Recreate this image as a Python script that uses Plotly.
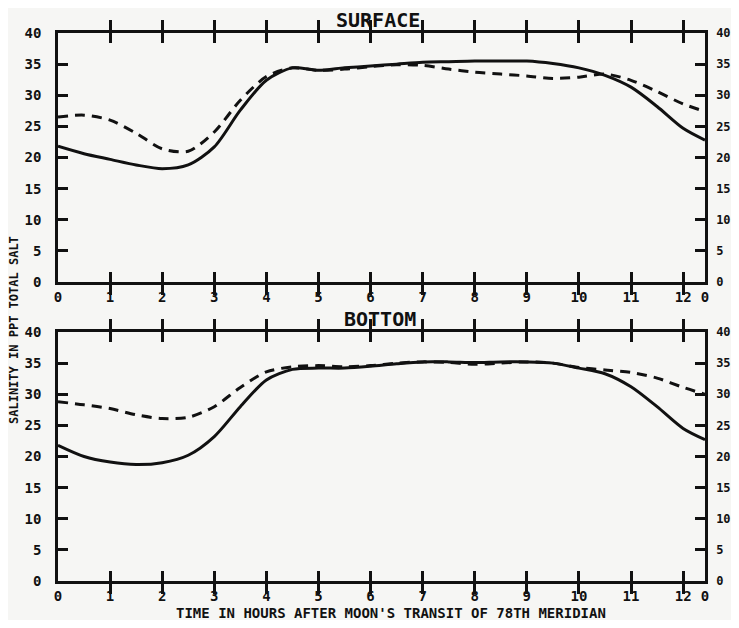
import plotly.graph_objects as go

hours = [0, 0.5, 1, 1.5, 2, 2.5, 3, 3.5, 4, 4.5, 5, 5.5, 6, 6.5, 7, 7.5, 8, 8.5,
         9, 9.5, 10, 10.5, 11, 11.5, 12, 12.42]

surface_solid = [21.8, 20.6, 19.7, 18.8, 18.2, 18.8, 21.7, 27.6, 32.4, 34.4, 34.0, 34.4, 34.7,
                 35.0, 35.3, 35.4, 35.5, 35.5, 35.5, 35.1, 34.4, 33.2, 31.3, 28.2, 24.7, 22.8]
surface_dashed = [26.5, 26.8, 26.0, 23.9, 21.4, 21.0, 24.1, 29.2, 33.0, 34.4, 34.0, 34.2, 34.6,
                  34.9, 34.8, 34.2, 33.7, 33.4, 33.1, 32.7, 32.9, 33.4, 32.4, 30.6, 28.6, 27.4]
bottom_solid = [21.8, 20.0, 19.1, 18.7, 19.0, 20.2, 23.2, 28.0, 32.3, 34.0, 34.2, 34.2, 34.5,
                34.9, 35.2, 35.2, 35.1, 35.2, 35.2, 35.0, 34.2, 33.3, 31.2, 28.0, 24.5, 22.7]
bottom_dashed = [28.8, 28.3, 27.7, 26.7, 26.1, 26.3, 28.0, 31.1, 33.6, 34.4, 34.6, 34.4, 34.6,
                 35.0, 35.2, 35.1, 34.8, 35.0, 35.2, 35.0, 34.3, 33.9, 33.5, 32.6, 31.1, 30.0]

x_tickvals = [0, 1, 2, 3, 4, 5, 6, 7, 8, 9, 10, 11, 12, 12.42]
x_ticktext = ["0", "1", "2", "3", "4", "5", "6", "7", "8", "9", "10", "11", "12", "0"]
y_tickvals = [0, 5, 10, 15, 20, 25, 30, 35, 40]
y_ticktext = ["0", "5", "10", "15", "20", "25", "30", "35", "40"]

INK = "#111111"
BG = "#f6f6f4"
FONT = "DejaVu Sans Mono"
LW = 3

fig = go.Figure()


def add_pair(solid, dashed, xa, ya, ya_right):
    fig.add_trace(go.Scatter(x=hours, y=dashed, mode="lines", xaxis=xa, yaxis=ya,
                             line=dict(color=INK, width=LW, dash="10px,7px", shape="spline", smoothing=0.8),
                             showlegend=False, hoverinfo="skip"))
    fig.add_trace(go.Scatter(x=hours, y=solid, mode="lines", xaxis=xa, yaxis=ya,
                             line=dict(color=INK, width=LW, shape="spline", smoothing=0.8),
                             showlegend=False, hoverinfo="skip"))
    # carrier trace so the right-hand axis is drawn
    fig.add_trace(go.Scatter(x=hours, y=solid, mode="lines", xaxis=xa, yaxis=ya_right,
                             line=dict(color="rgba(0,0,0,0)", width=0),
                             showlegend=False, hoverinfo="skip"))


add_pair(surface_solid, surface_dashed, "x2", "y2", "y4")
add_pair(bottom_solid, bottom_dashed, "x", "y", "y3")

tickfont = dict(family=FONT, size=14, color=INK, weight="bold")
rtickfont = dict(family=FONT, size=12, color=INK, weight="bold")

xcommon = dict(range=[0, 12.42], tickvals=x_tickvals, ticktext=x_ticktext,
               ticks="inside", ticklen=10, tickwidth=2.5, tickcolor=INK,
               showline=True, linewidth=2.5, linecolor=INK, mirror="allticks",
               showgrid=False, zeroline=False, tickfont=tickfont, ticklabelstandoff=0,
               automargin=False)
yleft = dict(range=[0, 40], tickvals=y_tickvals, ticktext=y_ticktext,
             ticks="inside", ticklen=10, tickwidth=2.5, tickcolor=INK,
             showline=True, linewidth=2.5, linecolor=INK, mirror=False,
             showgrid=False, zeroline=False, tickfont=tickfont, ticklabelstandoff=11,
             automargin=False)
yright = dict(range=[0, 40], tickvals=y_tickvals, ticktext=y_ticktext,
              ticks="inside", ticklen=10, tickwidth=2.5, tickcolor=INK,
              showline=True, linewidth=2.5, linecolor=INK, side="right",
              showgrid=False, zeroline=False, tickfont=rtickfont, ticklabelstandoff=6,
              automargin=False)

bot_dom = [0, 249 / 548]
top_dom = [299 / 548, 1]

# page body has an 8px margin, so the figure is a bit smaller than the window
fig.update_layout(
    width=723, height=612,
    margin=dict(l=50, r=26, t=25, b=39, autoexpand=False),
    paper_bgcolor=BG, plot_bgcolor=BG,
    xaxis=dict(xcommon, anchor="y", domain=[0, 1]),
    xaxis2=dict(xcommon, anchor="y2", domain=[0, 1]),
    yaxis=dict(yleft, anchor="x", domain=bot_dom),
    yaxis2=dict(yleft, anchor="x2", domain=top_dom),
    yaxis3=dict(yright, anchor="x", overlaying="y"),
    yaxis4=dict(yright, anchor="x2", overlaying="y2"),
    showlegend=False,
)

titlefont = dict(family=FONT, size=20, color=INK, weight="bold")
fig.add_annotation(text="SURFACE", xref="paper", yref="paper", x=0.495, y=1.0,
                   xanchor="center", yanchor="bottom", showarrow=False, font=titlefont, yshift=-1)
fig.add_annotation(text="BOTTOM", xref="paper", yref="paper", x=0.498, y=249 / 548,
                   xanchor="center", yanchor="bottom", showarrow=False, font=titlefont, yshift=-1)
fig.add_annotation(text="SALINITY IN PPT TOTAL SALT", xref="paper", yref="paper",
                   x=(14 - 58) / 647, y=(581 - 330) / 548, textangle=-90,
                   xanchor="center", yanchor="middle", showarrow=False,
                   font=dict(family=FONT, size=12, color=INK, weight="bold"))
fig.add_annotation(text="TIME IN HOURS AFTER MOON'S TRANSIT OF 78TH MERIDIAN", xref="paper", yref="paper",
                   x=(391 - 58) / 647, y=(581 - 613) / 548,
                   xanchor="center", yanchor="middle", showarrow=False,
                   font=dict(family=FONT, size=14, color=INK, weight="bold"))

fig.write_html("out.html")
